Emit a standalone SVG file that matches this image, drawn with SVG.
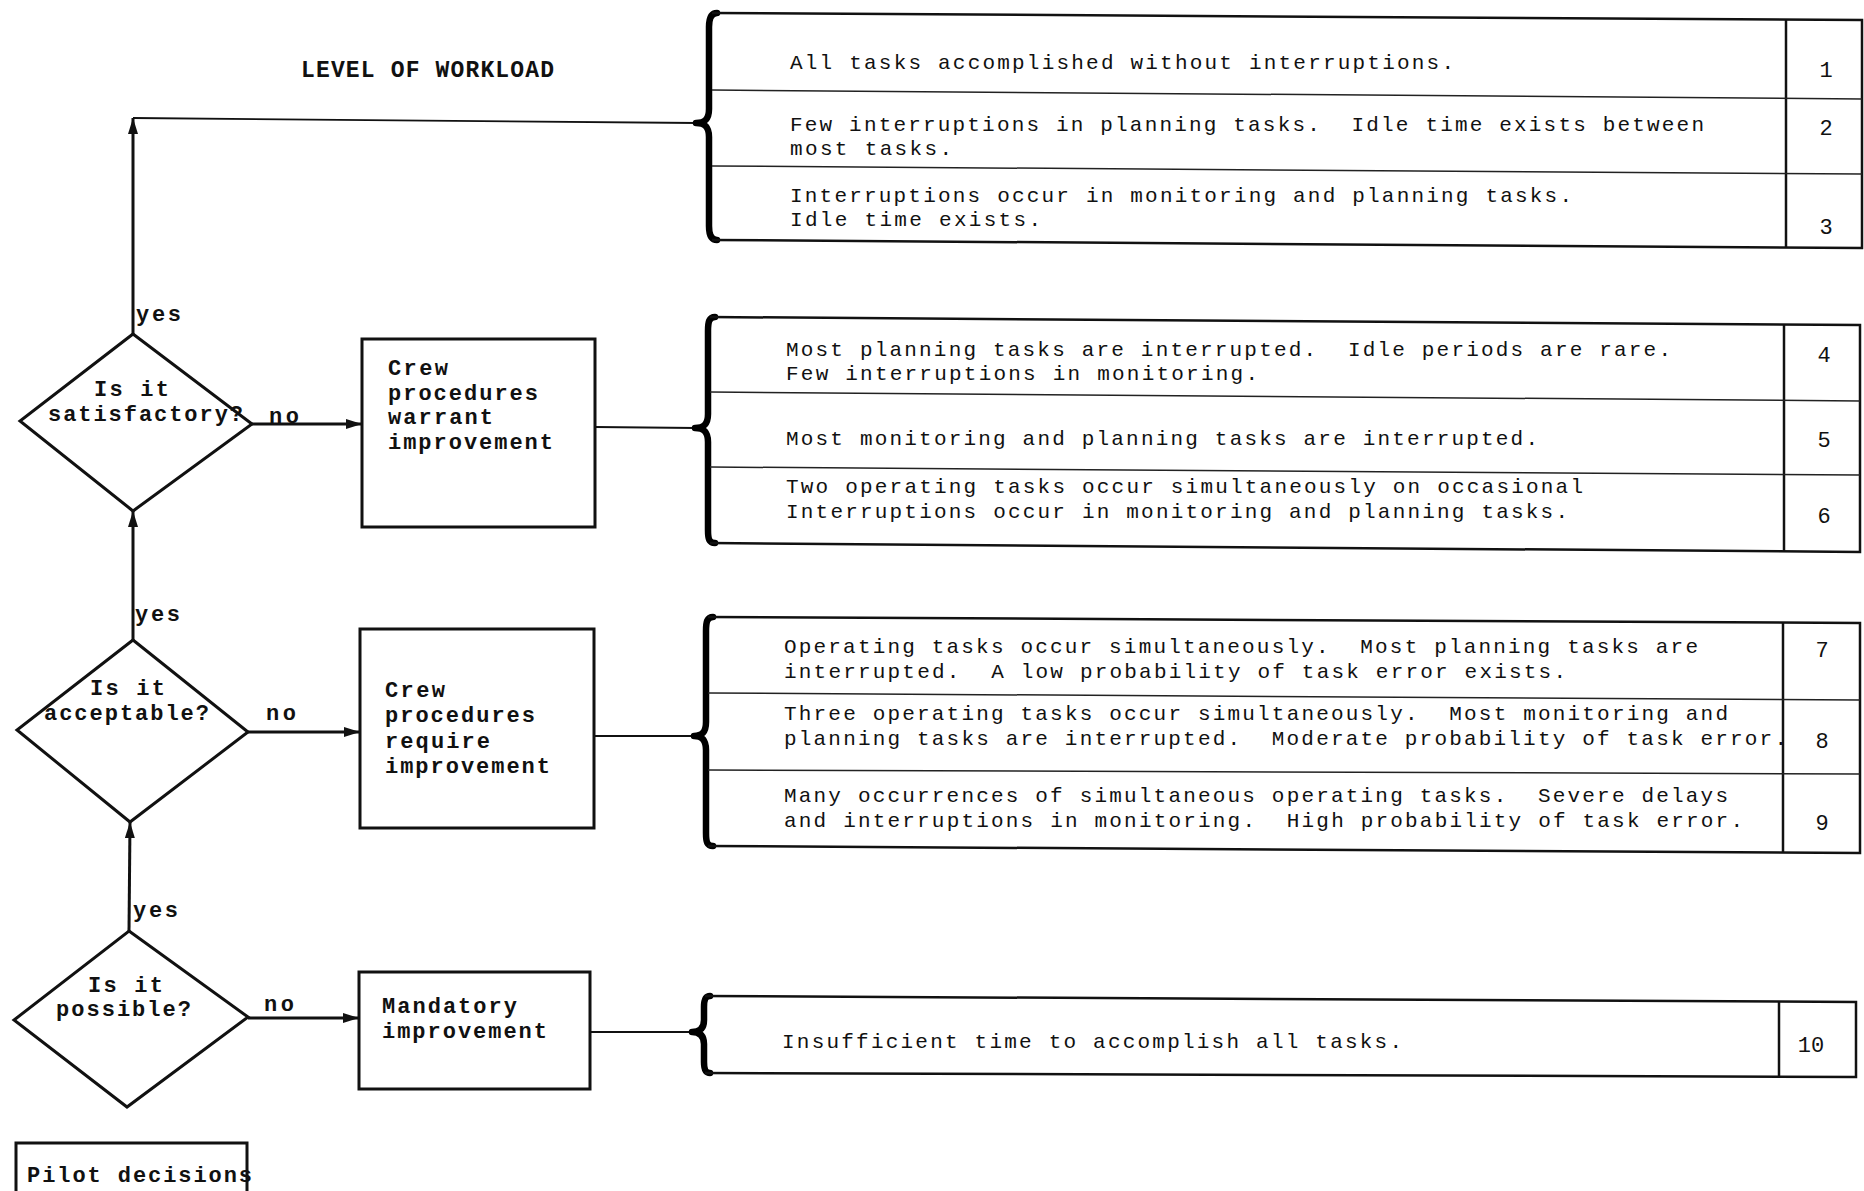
<svg xmlns="http://www.w3.org/2000/svg" width="1864" height="1191" viewBox="0 0 1864 1191">
<defs>
<marker id="arr" markerUnits="userSpaceOnUse" markerWidth="18" markerHeight="12" refX="16" refY="5" orient="auto">
<path d="M0,0 L16,5 L0,10 Z" fill="#111"/>
</marker>
</defs>
<style>
.shape{fill:none;stroke:#111;stroke-width:3}
.tbl{fill:none;stroke:#111;stroke-width:2.5}
.row{fill:none;stroke:#222;stroke-width:1.5}
.brace{fill:none;stroke:#000;stroke-width:6.5;stroke-linecap:round;stroke-linejoin:round}
.conn{fill:none;stroke:#111;stroke-width:3}
.thin{fill:none;stroke:#111;stroke-width:1.8}
.ttl{font-family:"Liberation Mono","DejaVu Sans Mono",monospace;font-weight:bold;font-size:23px;fill:#111;white-space:pre}
.lbl{font-family:"Liberation Mono","DejaVu Sans Mono",monospace;font-weight:bold;font-size:22px;fill:#111;white-space:pre}
.tx{font-family:"Liberation Mono","DejaVu Sans Mono",monospace;font-size:21px;fill:#111;white-space:pre}
.num{font-family:"Liberation Mono","DejaVu Sans Mono",monospace;font-size:22px;fill:#111;text-anchor:middle}
</style>
<rect width="1864" height="1191" fill="#fff"/>

<g id="title">
<text class="ttl" x="301" y="77" textLength="253" lengthAdjust="spacing">LEVEL OF WORKLOAD</text>
</g>

<g id="connectors">
<line class="conn" x1="133" y1="334" x2="133" y2="118" marker-end="url(#arr)"/>
<line class="thin" x1="133" y1="118" x2="697" y2="123"/>
<line class="conn" x1="133" y1="640" x2="133" y2="511" marker-end="url(#arr)"/>
<line class="conn" x1="129" y1="931" x2="130" y2="822" marker-end="url(#arr)"/>
<line class="conn" x1="252" y1="424" x2="362" y2="424" marker-end="url(#arr)"/>
<line class="conn" x1="248" y1="732" x2="360" y2="732" marker-end="url(#arr)"/>
<line class="conn" x1="248" y1="1018" x2="359" y2="1018" marker-end="url(#arr)"/>
<line class="thin" x1="595" y1="427" x2="696" y2="428"/>
<line class="thin" x1="594" y1="736" x2="694" y2="736"/>
<line class="thin" x1="590" y1="1032" x2="692" y2="1032"/>
<text class="lbl" x="136" y="321" textLength="45" lengthAdjust="spacing">yes</text>
<text class="lbl" x="135" y="621" textLength="45" lengthAdjust="spacing">yes</text>
<text class="lbl" x="133" y="917" textLength="45" lengthAdjust="spacing">yes</text>
<text class="lbl" x="269" y="423" textLength="30" lengthAdjust="spacing">no</text>
<text class="lbl" x="266" y="720" textLength="30" lengthAdjust="spacing">no</text>
<text class="lbl" x="264" y="1011" textLength="30" lengthAdjust="spacing">no</text>
</g>

<g id="d-satisfactory">
<polygon class="shape" points="133,334 252,424 133,511 20,421"/>
<text class="lbl" x="94" y="396" textLength="75" lengthAdjust="spacing">Is it</text>
<text class="lbl" x="48" y="421" textLength="195" lengthAdjust="spacing">satisfactory?</text>
</g>

<g id="d-acceptable">
<polygon class="shape" points="133,640 248,732 130,822 17,730"/>
<text class="lbl" x="90" y="695" textLength="75" lengthAdjust="spacing">Is it</text>
<text class="lbl" x="44" y="720" textLength="165" lengthAdjust="spacing">acceptable?</text>
</g>

<g id="d-possible">
<polygon class="shape" points="129,931 248,1017 127,1107 14,1020"/>
<text class="lbl" x="88" y="992" textLength="75" lengthAdjust="spacing">Is it</text>
<text class="lbl" x="56" y="1016" textLength="135" lengthAdjust="spacing">possible?</text>
</g>

<g id="b-warrant">
<rect class="shape" x="362" y="339" width="233" height="188"/>
<text class="lbl" x="388" y="375" textLength="60" lengthAdjust="spacing">Crew</text>
<text class="lbl" x="388" y="400" textLength="150" lengthAdjust="spacing">procedures</text>
<text class="lbl" x="388" y="424" textLength="105" lengthAdjust="spacing">warrant</text>
<text class="lbl" x="388" y="449" textLength="165" lengthAdjust="spacing">improvement</text>
</g>

<g id="b-require">
<rect class="shape" x="360" y="629" width="234" height="199"/>
<text class="lbl" x="385" y="697" textLength="60" lengthAdjust="spacing">Crew</text>
<text class="lbl" x="385" y="722" textLength="150" lengthAdjust="spacing">procedures</text>
<text class="lbl" x="385" y="748" textLength="105" lengthAdjust="spacing">require</text>
<text class="lbl" x="385" y="773" textLength="165" lengthAdjust="spacing">improvement</text>
</g>

<g id="b-mandatory">
<rect class="shape" x="359" y="972" width="231" height="117"/>
<text class="lbl" x="382" y="1013" textLength="135" lengthAdjust="spacing">Mandatory</text>
<text class="lbl" x="382" y="1038" textLength="165" lengthAdjust="spacing">improvement</text>
</g>

<g id="legend">
<rect class="shape" x="16" y="1143" width="231" height="70"/>
<text class="lbl" x="27" y="1182" textLength="225" lengthAdjust="spacing">Pilot decisions</text>
</g>

<g id="t-levels-1-3">
<path class="brace" d="M717,13 C711,13 709,18 709,27 L709,109 C709,119 705,123 696,123 C705,123 709,127 709,137 L709,226 C709,235 711,240 717,240"/>
<polyline class="tbl" points="712,13 1862,20 1862,248 712,240"/>
<line class="tbl" x1="1786" y1="20" x2="1786" y2="248"/>
<line class="row" x1="712" y1="90" x2="1862" y2="99"/>
<line class="row" x1="712" y1="166" x2="1862" y2="174"/>
<text class="tx" x="790" y="69" textLength="664" lengthAdjust="spacing">All tasks accomplished without interruptions.</text>
<text class="tx" x="790" y="131" textLength="914" lengthAdjust="spacing">Few interruptions in planning tasks.  Idle time exists between</text>
<text class="tx" x="790" y="155" textLength="162" lengthAdjust="spacing">most tasks.</text>
<text class="tx" x="790" y="202" textLength="782" lengthAdjust="spacing">Interruptions occur in monitoring and planning tasks.</text>
<text class="tx" x="790" y="226" textLength="251" lengthAdjust="spacing">Idle time exists.</text>
<text class="num" x="1826" y="77">1</text>
<text class="num" x="1826" y="135">2</text>
<text class="num" x="1826" y="234">3</text>
</g>

<g id="t-levels-4-6">
<path class="brace" d="M715,317 C709,317 708,322 708,331 L708,414 C708,424 704,428 695,428 C704,428 708,432 708,442 L708,530 C708,539 709,543 715,543"/>
<polyline class="tbl" points="710,317 1860,325 1860,552 710,543"/>
<line class="tbl" x1="1784" y1="324" x2="1784" y2="552"/>
<line class="row" x1="710" y1="392" x2="1860" y2="401"/>
<line class="row" x1="710" y1="467" x2="1860" y2="475"/>
<text class="tx" x="786" y="356" textLength="885" lengthAdjust="spacing">Most planning tasks are interrupted.  Idle periods are rare.</text>
<text class="tx" x="786" y="380" textLength="472" lengthAdjust="spacing">Few interruptions in monitoring.</text>
<text class="tx" x="786" y="445" textLength="752" lengthAdjust="spacing">Most monitoring and planning tasks are interrupted.</text>
<text class="tx" x="786" y="493" textLength="797" lengthAdjust="spacing">Two operating tasks occur simultaneously on occasional</text>
<text class="tx" x="786" y="518" textLength="782" lengthAdjust="spacing">Interruptions occur in monitoring and planning tasks.</text>
<text class="num" x="1824" y="362">4</text>
<text class="num" x="1824" y="447">5</text>
<text class="num" x="1824" y="523">6</text>
</g>

<g id="t-levels-7-9">
<path class="brace" d="M713,617 C707,617 706,622 706,631 L706,722 C706,732 702,736 694,736 C702,736 706,740 706,750 L706,833 C706,842 707,846 713,846"/>
<polyline class="tbl" points="708,617 1860,623 1860,853 708,846"/>
<line class="tbl" x1="1783" y1="622" x2="1783" y2="853"/>
<line class="row" x1="708" y1="693" x2="1860" y2="700"/>
<line class="row" x1="708" y1="770" x2="1860" y2="774"/>
<text class="tx" x="784" y="653" textLength="914" lengthAdjust="spacing">Operating tasks occur simultaneously.  Most planning tasks are</text>
<text class="tx" x="784" y="678" textLength="782" lengthAdjust="spacing">interrupted.  A low probability of task error exists.</text>
<text class="tx" x="784" y="720" textLength="944" lengthAdjust="spacing">Three operating tasks occur simultaneously.  Most monitoring and</text>
<text class="tx" x="784" y="745" textLength="1003" lengthAdjust="spacing">planning tasks are interrupted.  Moderate probability of task error.</text>
<text class="tx" x="784" y="802" textLength="944" lengthAdjust="spacing">Many occurrences of simultaneous operating tasks.  Severe delays</text>
<text class="tx" x="784" y="827" textLength="959" lengthAdjust="spacing">and interruptions in monitoring.  High probability of task error.</text>
<text class="num" x="1822" y="657">7</text>
<text class="num" x="1822" y="748">8</text>
<text class="num" x="1822" y="830">9</text>
</g>

<g id="t-level-10">
<path class="brace" d="M710,996 C705,996 704,1000 704,1007 L704,1020 C704,1028 700,1032 692,1032 C700,1032 704,1036 704,1044 L704,1062 C704,1069 705,1073 710,1073"/>
<polyline class="tbl" points="705,996 1856,1002 1856,1077 705,1073"/>
<line class="tbl" x1="1779" y1="1001" x2="1779" y2="1077"/>
<text class="tx" x="782" y="1048" textLength="620" lengthAdjust="spacing">Insufficient time to accomplish all tasks.</text>
<text class="num" x="1811" y="1052">10</text>
</g>
</svg>
